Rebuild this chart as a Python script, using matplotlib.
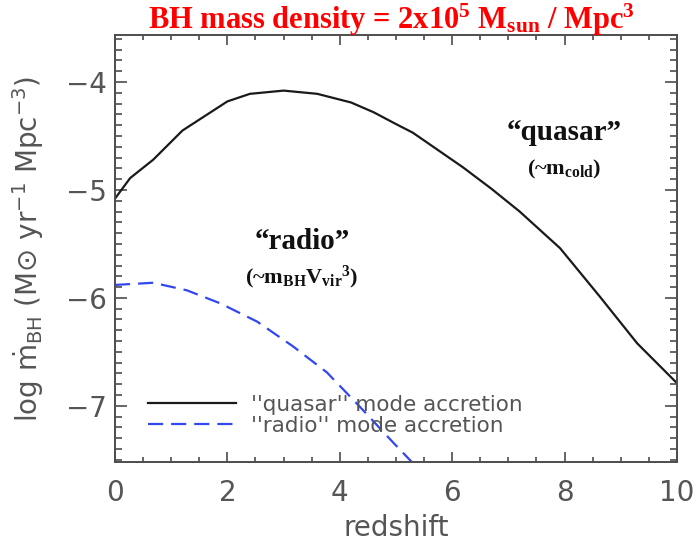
import matplotlib
matplotlib.use("Agg")
import matplotlib.pyplot as plt
from matplotlib.ticker import MultipleLocator

# Accretion-rate density histories (log Msun / yr / Mpc^3) versus redshift
z_quasar = [0.0, 0.27, 0.68, 1.2, 2.0, 2.4, 3.0, 3.6, 4.2, 4.6, 5.0, 5.3,
            6.19, 6.7, 7.2, 7.92, 8.63, 9.29, 10.0]
logm_quasar = [-5.08, -4.89, -4.72, -4.45, -4.18, -4.11, -4.08, -4.11, -4.19,
               -4.28, -4.39, -4.47, -4.79, -4.99, -5.20, -5.54, -5.99,
               -6.42, -6.79]

z_radio = [0.0, 0.68, 1.28, 1.87, 2.53, 3.17, 3.77, 4.36, 4.95, 5.3]
logm_radio = [-5.88, -5.86, -5.93, -6.05, -6.22, -6.45, -6.69, -7.01, -7.34, -7.53]

series_labels = ["''quasar'' mode accretion", "''radio'' mode accretion"]
x_ticks = [0, 2, 4, 6, 8, 10]
y_ticks = [-7, -6, -5, -4]

plt.rcParams["mathtext.fontset"] = "custom"
plt.rcParams["mathtext.rm"] = "Liberation Serif:bold"
plt.rcParams["mathtext.it"] = "Liberation Serif:bold"
plt.rcParams["mathtext.bf"] = "Liberation Serif:bold"

axis_gray = "#4d4d4d"
text_gray = "#555555"
blue = "#3347f0"

fig = plt.figure(figsize=(6.97, 5.48), dpi=100)
ax = fig.add_axes([115 / 697, 86 / 548, 562 / 697, 427 / 548])

ax.plot(z_quasar, logm_quasar, color="#1a1a1a", lw=1.6, label=series_labels[0])
ax.plot(z_radio, logm_radio, color=blue, lw=1.6, dashes=(6.8, 3.6),
        label=series_labels[1])

ax.set_xlim(0, 10)
ax.set_ylim(-7.52, -3.565)
ax.set_xticks(x_ticks)
ax.set_yticks(y_ticks)
ax.xaxis.set_minor_locator(MultipleLocator(0.5))
ax.yaxis.set_minor_locator(MultipleLocator(0.1))

for s in ax.spines.values():
    s.set_color(axis_gray)
    s.set_linewidth(1.4)

ax.tick_params(axis="both", which="both", direction="in", top=True, right=True,
               color=axis_gray, width=1.2, labelcolor=text_gray)
ax.tick_params(axis="x", which="major", length=7, pad=12, labelsize=20)
ax.tick_params(axis="x", which="minor", length=3.6)
ax.tick_params(axis="y", which="major", length=8.6, pad=6, labelsize=20)
ax.tick_params(axis="y", which="minor", length=5)

ax.set_xlabel("redshift", fontsize=20, color=text_gray, labelpad=5)
ax.set_ylabel(r"log $\dot{\rm m}_{\rm BH}$ (M$\odot$ yr$^{-1}$ Mpc$^{-3}$)",
              fontsize=20, color=text_gray, math_fontfamily="dejavusans")
ax.yaxis.set_label_coords(-0.122, 0.5)

leg = ax.legend(loc="upper left", bbox_to_anchor=(0.059, 0.158), frameon=False,
                fontsize=15.5, handlelength=4.1, handletextpad=0.7,
                borderpad=0, borderaxespad=0, labelspacing=0.05)
for t in leg.get_texts():
    t.set_color(text_gray)

serif = "Liberation Serif"
ax.text(7.99, -4.47, "\u201cquasar\u201d", fontsize=21, fontweight="bold",
        family=serif, ha="center", va="center", color="#111111")
ax.text(8.0, -4.81, "(~m$_{\\rm cold}$)", fontsize=16, fontweight="bold",
        family=serif, ha="center", va="center", color="#111111")
ax.text(3.33, -5.48, "\u201cradio\u201d", fontsize=21, fontweight="bold",
        family=serif, ha="center", va="center", color="#111111")
ax.text(3.33, -5.81, "(~m$_{\\rm BH}$V$_{\\rm vir}$$^{3}$)", fontsize=16,
        fontweight="bold", family=serif, ha="center", va="center",
        color="#111111")

fig.text(391 / 697, 1 - 20 / 548,
         "BH mass density = 2x10$^{5}$ M$_{\\rm sun}$ / Mpc$^{3}$",
         fontsize=22, fontweight="bold", family=serif, color="#ff0000",
         ha="center", va="center")

fig.savefig("out.png", dpi=100)
